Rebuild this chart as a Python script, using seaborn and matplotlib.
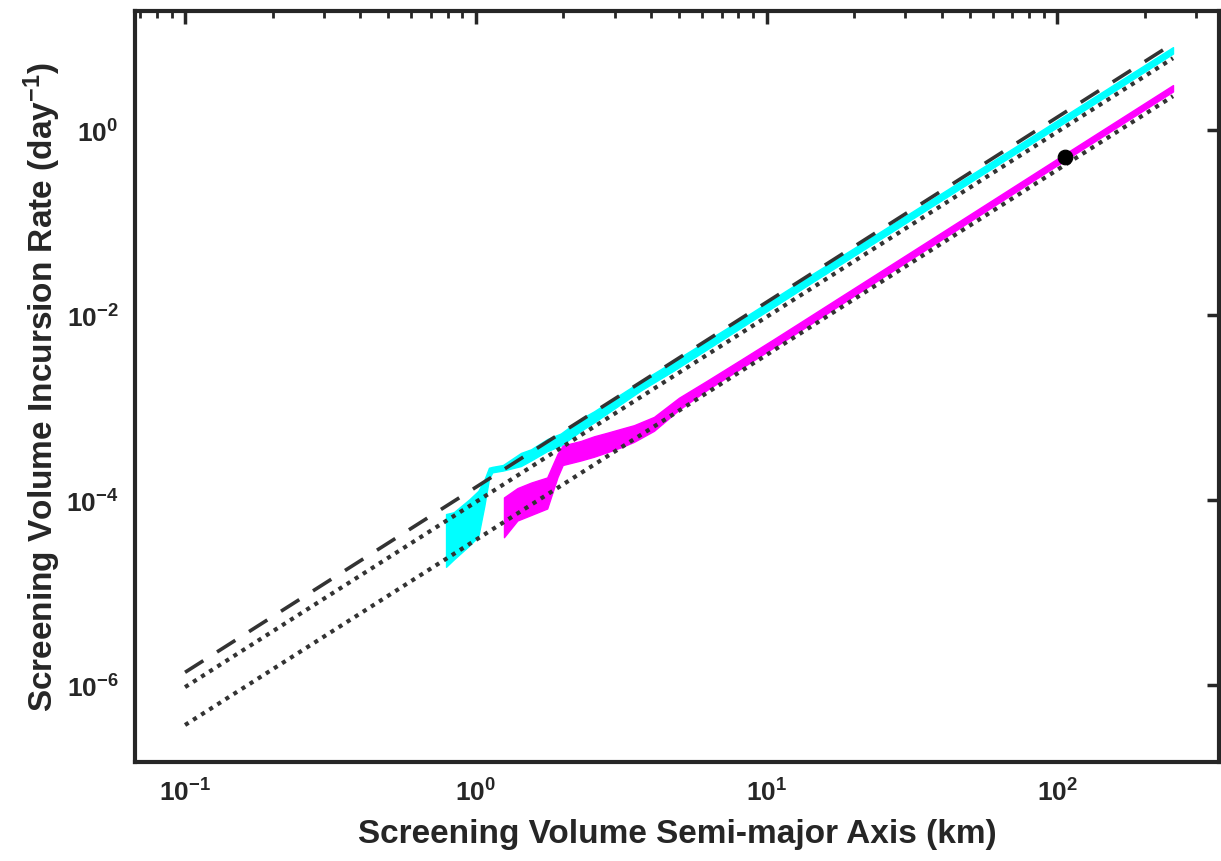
"""Screening volume incursion rate vs. semi-major axis (log-log, seaborn)."""
import matplotlib

matplotlib.use("Agg")

import matplotlib.pyplot as plt
import seaborn as sns
from matplotlib.ticker import FixedLocator, LogFormatterSciNotation, NullLocator, NullFormatter

# reference power-law lines, endpoints
ref_x = [0.1, 250]
dashed_y = [1.38e-6, 8.6]
dotted_hi_y = [9.55e-7, 5.97]
dotted_lo_y = [3.72e-7, 2.32]

# cyan band (upper / lower bound)
cyan_x = [0.79, 0.84, 0.95, 1.02, 1.07, 1.11, 1.14, 1.24, 1.43, 1.55, 1.76,
          1.96, 2.30, 2.55, 3.69, 4.8, 8.14, 13.8, 23.4, 60, 120, 250]
cyan_hi = [7.08e-5, 7.41e-5, 1.02e-4, 1.26e-4, 1.66e-4, 2.24e-4, 2.29e-4,
           2.40e-4, 3.24e-4, 3.55e-4, 4.57e-4, 5.25e-4, 7.59e-4, 9.12e-4,
           1.92e-3, 3.18e-3, 8.93e-3, 2.57e-2, 7.21e-2, 0.463, 1.83, 7.87]
cyan_lo = [1.905e-5, 2.29e-5, 3.24e-5, 4.07e-5, 8.71e-5, 1.70e-4, 2.00e-4,
           2.09e-4, 2.34e-4, 2.69e-4, 3.39e-4, 3.89e-4, 5.62e-4, 6.92e-4,
           1.53e-3, 2.52e-3, 7.26e-3, 2.09e-2, 6.00e-2, 0.390, 1.54, 6.70]

# magenta band (upper / lower bound)
mag_x = [1.25, 1.39, 1.55, 1.76, 1.91, 1.99, 2.30, 2.55, 2.84, 3.15, 3.50,
         4.10, 5.0, 6.25, 8.14, 10.6, 13.8, 17.9, 23.4, 46, 106, 250]
mag_hi = [1.07e-4, 1.35e-4, 1.55e-4, 1.76e-4, 3.16e-4, 3.89e-4, 4.37e-4,
          4.90e-4, 5.37e-4, 5.89e-4, 6.46e-4, 7.94e-4, 1.28e-3, 1.96e-3,
          3.28e-3, 5.51e-3, 9.33e-3, 1.57e-2, 2.68e-2, 0.1035, 0.551, 3.06]
mag_lo = [3.98e-5, 6.03e-5, 6.92e-5, 8.13e-5, 1.78e-4, 2.40e-4, 2.69e-4,
          2.95e-4, 3.31e-4, 3.72e-4, 4.27e-4, 5.62e-4, 9.51e-4, 1.56e-3,
          2.64e-3, 4.48e-3, 7.59e-3, 1.29e-2, 2.23e-2, 8.71e-2, 0.469, 2.61]

# single marked point
dot_x = [106]
dot_y = [0.51]

# axis ticks
x_major = [0.1, 1, 10, 100]
x_minor = [0.07, 0.08, 0.09, 0.2, 0.3, 0.4, 0.5, 0.6, 0.7, 0.8, 0.9,
           2, 3, 4, 5, 6, 7, 8, 9, 20, 30, 40, 50, 60, 70, 80, 90, 200, 300]
y_major = [1e-6, 1e-4, 1e-2, 1]

sns.set_theme(style="white")
plt.rcParams["font.family"] = ["Liberation Sans", "DejaVu Sans"]
plt.rcParams["font.weight"] = "bold"
plt.rcParams["axes.unicode_minus"] = False
plt.rcParams["mathtext.fontset"] = "custom"
plt.rcParams["mathtext.rm"] = "Liberation Sans:bold"
plt.rcParams["mathtext.it"] = "Liberation Sans:bold:italic"
plt.rcParams["mathtext.bf"] = "Liberation Sans:bold"

DARK = "#262626"
LINE = "#333333"

fig = plt.figure(figsize=(12.21, 8.62), dpi=100)
ax = fig.add_axes([0.1106, 0.1148, 0.8878, 0.8712])

ax.fill_between(cyan_x, cyan_lo, cyan_hi, color="#00ffff", lw=1.0, edgecolor="#00ffff", zorder=2)
ax.fill_between(mag_x, mag_lo, mag_hi, color="#ff00ff", lw=1.0, edgecolor="#ff00ff", zorder=2)

sns.lineplot(x=ref_x, y=dashed_y, ax=ax, color=LINE, lw=2.6, zorder=3)
ax.lines[-1].set_dashes((6, 4.5))
ax.lines[-1].set_dash_capstyle("butt")
for ys in (dotted_hi_y, dotted_lo_y):
    sns.lineplot(x=ref_x, y=ys, ax=ax, color=LINE, lw=3.0, zorder=3)
    ax.lines[-1].set_dashes((1, 1.3))
    ax.lines[-1].set_dash_capstyle("butt")

sns.scatterplot(x=dot_x, y=dot_y, ax=ax, color="black", s=110, edgecolor="black", zorder=4)

ax.set_xscale("log")
ax.set_yscale("log")
ax.set_xlim(0.0673, 360)
ax.set_ylim(1.48e-7, 19.3)

ax.xaxis.set_major_locator(FixedLocator(x_major))
ax.xaxis.set_minor_locator(FixedLocator(x_minor))
ax.xaxis.set_minor_formatter(NullFormatter())
ax.yaxis.set_major_locator(FixedLocator(y_major))
ax.yaxis.set_minor_locator(NullLocator())
ax.yaxis.set_minor_formatter(NullFormatter())
ax.xaxis.set_major_formatter(LogFormatterSciNotation(base=10))
ax.yaxis.set_major_formatter(LogFormatterSciNotation(base=10))

ax.tick_params(which="both", direction="in", top=True, right=True, color=DARK,
               labelcolor=DARK, labelsize=19)
ax.tick_params(which="major", length=9, width=2.5, pad=12)
ax.tick_params(which="minor", length=5, width=2.0)
for s in ax.spines.values():
    s.set_linewidth(3)
    s.set_color(DARK)

ax.set_xlabel("Screening Volume Semi-major Axis (km)", fontsize=24, fontweight="bold",
              color=DARK, labelpad=9)
ax.set_ylabel("Screening Volume Incursion Rate (day$^{-1}$)", fontsize=24,
              fontweight="bold", color=DARK, labelpad=2)

fig.savefig("out.png", dpi=100)
plt.close(fig)
